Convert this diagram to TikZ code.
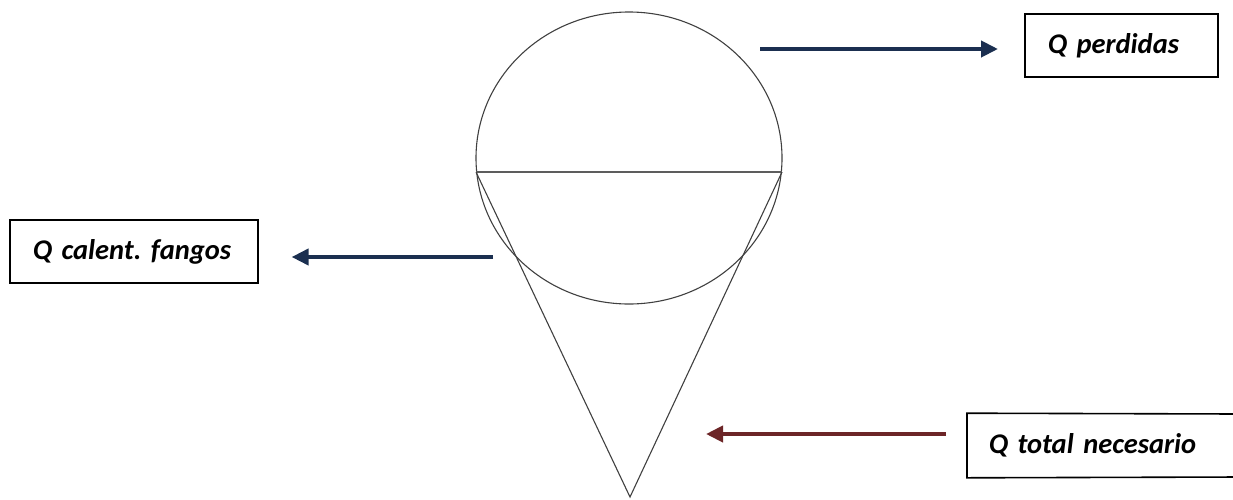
\documentclass[tikz,border=0pt]{standalone}
\usepackage{fontspec}
\setmainfont{Carlito}[WordSpace=0.6]
\usetikzlibrary{arrows.meta,positioning}
\definecolor{Nv}{HTML}{1B2F50}
\definecolor{Dr}{HTML}{6C2527}
\definecolor{wall}{HTML}{404040}
\tikzset{
  qbox/.style={draw=black, line width=1.6pt, minimum height=63pt, inner ysep=0pt,
    align=left, font=\fontsize{28.5}{32}\selectfont\bfseries\itshape\frenchspacing},
  flow/.style={-{Triangle[length=17pt,width=16pt]}, line width=4pt},
  vess/.style={draw=wall, line width=1.1pt},
}

\begin{document}
\begin{tikzpicture}[x=1pt,y=-1pt]
  \useasboundingbox (0,0) rectangle (1233,499);
  % digestor
  \draw[vess] (629,158) ellipse [x radius=153, y radius=146];
  \coordinate (L) at (476,172);
  \coordinate (R) at (782,172);
  \coordinate (tip) at (630,497);
  \draw[vess, line width=1.8pt, draw=wall!85] (L) -- (R);
  \draw[vess] (L) -- (tip) -- (R);
  % boxes
  \node[qbox, anchor=west, text width=147pt, inner xsep=23pt] (perd) at (1024,45.5) {Q perdidas};
  \node[qbox, anchor=west, text width=202pt, inner xsep=23pt] (fang) at (9,251.5) {Q calent. fangos};
  \node[qbox, draw=none, anchor=west, text width=250pt, inner xsep=21pt] (tot) at (967,445.5) {Q total necesario};
  \draw[line width=1.6pt] (1240,414) -- (tot.north west) -- (tot.south west) -- (1240,477);
  % flows
  \coordinate (a1) at (760,49);
  \coordinate (a2) at (493,257);
  \coordinate (a3) at (706,434);
  \draw[flow, Nv, shorten >=26pt] (a1) -- (a1 -| perd.west);
  \draw[flow, Nv, shorten >=33pt] (a2) -- (a2 -| fang.east);
  \draw[flow, Dr, shorten <=21pt] (a3 -| tot.west) -- (a3);
\end{tikzpicture}
\end{document}
